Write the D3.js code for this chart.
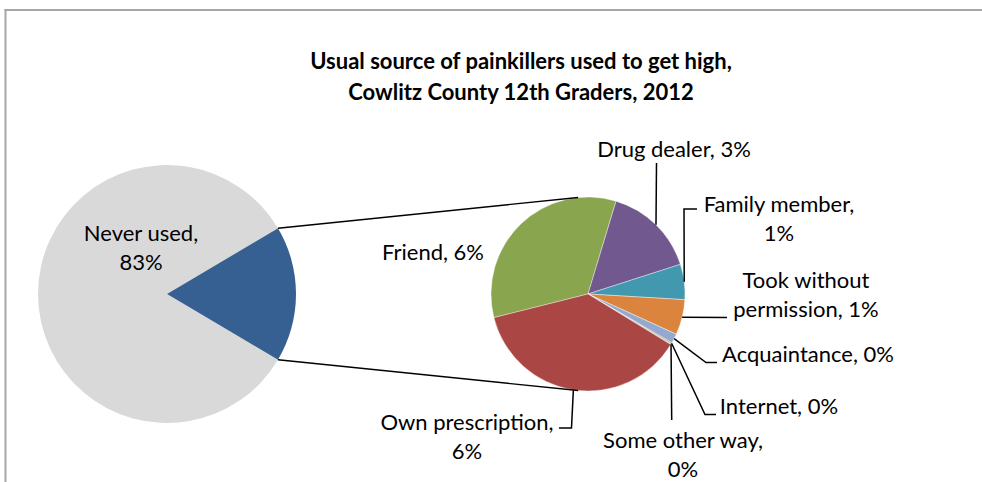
<!DOCTYPE html>
<html>
<head>
<meta charset="utf-8">
<script src="https://cdn.jsdelivr.net/npm/d3@7"></script>
<style>
  html, body { margin: 0; padding: 0; overflow: hidden; background: #fff; }
  svg { display: block; font-family: Lato, "Liberation Sans", sans-serif; }
</style>
</head>
<body>
<main></main>
<script>
const w = 982;
const h = 482;

const titleLines = ["Usual source of painkillers used to get high,", "Cowlitz County 12th Graders, 2012"];

// first pie: percent of all 12th graders
const mainCategories = ["Never used", "Other"];
const mainValues = [83, 17.03];

// second pie: breakdown of the "Other" slice (percent of all students)
const detailCategories = ["Friend", "Drug dealer", "Family member", "Took without permission",
                          "Acquaintance", "Internet", "Some other way", "Own prescription"];
const detailValues = [5.72, 2.62, 1.0, 1.0, 0.27, 0.03, 0.03, 6.36];

const mainColors = ["#d9d9d9", "#376092"];
const detailColors = ["#89a54e", "#71588f", "#4198af", "#db843d", "#93a9cf", "#a47d7c", "#b5ca92", "#aa4643"];

// label placement, offsets from the pie centre (hand placed like in the workbook)
const mainLabelLayout = {
    "Never used": { dx: -26, dy: -53, breakAfter: "," }
};
const detailLabelLayout = {
    "Friend":                  { dx: -155, dy: -34 },
    "Drug dealer":             { dx: 86,  dy: -137, leader: [[68.5, -131]] },
    "Family member":           { dx: 191, dy: -82, breakAfter: ",", leader: [[96, -85], [109, -85]] },
    "Took without permission": { dx: 218, dy: -6, breakAfter: "without", leader: [[139, 23.5]] },
    "Acquaintance":            { dx: 220, dy: 68, leader: [[118, 68.5], [129, 68.5]] },
    "Internet":                { dx: 191, dy: 120, leader: [[117, 120.5], [128, 120.5]] },
    "Some other way":          { dx: 95,  dy: 154, breakAfter: ",", leader: [[83.7, 126]] },
    "Own prescription":        { dx: -121, dy: 136, breakAfter: ",", leader: [[-16.5, 134], [-29, 134]] }
};

const bigC = [167, 294];
const bigR = 129;
const smallC = [588, 294];
const smallR = 97;
const detailStart = -104.1 * Math.PI / 180;
const fontSize = 22;
const lineHeight = 28.5;

const pct = v => Math.round(v) + "%";

function edgePoint(c, r, a) {
    return [c[0] + r * Math.sin(a), c[1] - r * Math.cos(a)];
}

function tangentPoint(p, c, r, upper) {
    const dx = p[0] - c[0], dy = p[1] - c[1];
    const d = Math.hypot(dx, dy);
    const phi = Math.atan2(dy, dx);
    const alpha = Math.acos(r / d);
    const t1 = [c[0] + r * Math.cos(phi + alpha), c[1] + r * Math.sin(phi + alpha)];
    const t2 = [c[0] + r * Math.cos(phi - alpha), c[1] + r * Math.sin(phi - alpha)];
    if (upper) return t1[1] < t2[1] ? t1 : t2;
    return t1[1] > t2[1] ? t1 : t2;
}

function labelLines(name, value, layout) {
    const full = name + ", " + pct(value);
    if (!layout.breakAfter) return [full];
    const i = full.indexOf(layout.breakAfter) + layout.breakAfter.length;
    return [full.slice(0, i).trim(), full.slice(i).trim()];
}

const svg = d3.select("main")
    .append("svg")
    .attr("width", w)
    .attr("height", h);

// chart area border: only the left and top edges are inside the picture
const frame = [[5.5, 9, 5.5, h], [4.5, 10, w, 10]];
svg.selectAll("line.frame")
    .data(frame)
    .enter()
    .append("line")
    .attr("class", "frame")
    .attr("x1", d => d[0])
    .attr("y1", d => d[1])
    .attr("x2", d => d[2])
    .attr("y2", d => d[3])
    .attr("stroke", "#a6a6a6")
    .attr("stroke-width", 2);

svg.append("text")
    .attr("text-anchor", "middle")
    .attr("font-weight", "bold")
    .attr("font-size", 22)
    .selectAll("tspan")
    .data(titleLines)
    .enter()
    .append("tspan")
    .attr("x", 521)
    .attr("y", (d, i) => 69 + i * 31)
    .text(d => d);

// ---- first pie
const otherAngle = mainValues[1] / d3.sum(mainValues) * 2 * Math.PI;
const mainStart = Math.PI / 2 + otherAngle / 2;
const bigPie = d3.pie()
    .sort(null)
    .startAngle(mainStart)
    .endAngle(mainStart + 2 * Math.PI);
const bigArcs = bigPie(mainValues);
const bigArc = d3.arc().innerRadius(0).outerRadius(bigR);

const bigG = svg.append("g").attr("transform", "translate(" + bigC + ")");
bigG.selectAll("path")
    .data(bigArcs)
    .enter()
    .append("path")
    .attr("d", bigArc)
    .attr("fill", (d, i) => mainColors[i]);

// ---- second pie
const smallPie = d3.pie()
    .sort(null)
    .startAngle(detailStart)
    .endAngle(detailStart + 2 * Math.PI);
const smallArcs = smallPie(detailValues);
const smallArc = d3.arc().innerRadius(0).outerRadius(smallR);

const smallG = svg.append("g").attr("transform", "translate(" + smallC + ")");
smallG.selectAll("path")
    .data(smallArcs)
    .enter()
    .append("path")
    .attr("d", smallArc)
    .attr("fill", (d, i) => detailColors[i])
    .attr("stroke", "#fff")
    .attr("stroke-width", 0.4);

// ---- connector lines from the "Other" slice to the second pie
const other = bigArcs[1];
const pTop = edgePoint(bigC, bigR, other.startAngle);
const pBottom = edgePoint(bigC, bigR, other.endAngle);
const connectors = [
    [pTop, tangentPoint(pTop, smallC, smallR, true)],
    [pBottom, tangentPoint(pBottom, smallC, smallR, false)]
];
svg.selectAll("line.connector")
    .data(connectors)
    .enter()
    .append("line")
    .attr("class", "connector")
    .attr("x1", d => d[0][0])
    .attr("y1", d => d[0][1])
    .attr("x2", d => d[1][0])
    .attr("y2", d => d[1][1])
    .attr("stroke", "#000")
    .attr("stroke-width", 1.3);

// ---- leader lines
const line = d3.line();
smallArcs.forEach((d, i) => {
    const layout = detailLabelLayout[detailCategories[i]];
    if (!layout.leader) return;
    const mid = (d.startAngle + d.endAngle) / 2;
    const pts = [edgePoint(smallC, smallR, mid)]
        .concat(layout.leader.map(p => [smallC[0] + p[0], smallC[1] + p[1]]));
    svg.append("path")
        .attr("d", line(pts))
        .attr("fill", "none")
        .attr("stroke", "#000")
        .attr("stroke-width", 1.5);
});

// ---- labels
function addLabel(c, lines, layout) {
    svg.append("text")
        .attr("text-anchor", "middle")
        .attr("font-size", fontSize)
        .attr("fill", "#000")
        .selectAll("tspan")
        .data(lines)
        .enter()
        .append("tspan")
        .attr("x", c[0] + layout.dx)
        .attr("y", (d, i) => c[1] + layout.dy + i * lineHeight)
        .text(d => d);
}

mainCategories.forEach((name, i) => {
    const layout = mainLabelLayout[name];
    if (layout) addLabel(bigC, labelLines(name, mainValues[i], layout), layout);
});
detailCategories.forEach((name, i) => {
    const layout = detailLabelLayout[name];
    addLabel(smallC, labelLines(name, detailValues[i], layout), layout);
});
</script>
</body>
</html>
